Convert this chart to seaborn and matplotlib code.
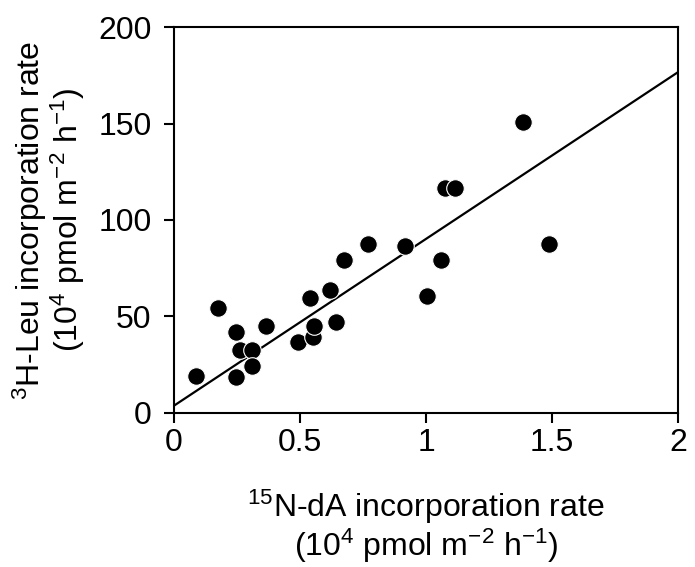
import numpy as np
import pandas as pd
import matplotlib
matplotlib.use("Agg")
import matplotlib.pyplot as plt
import seaborn as sns

# values
dA_rate = [0.09, 0.176, 0.247, 0.262, 0.311, 0.31, 0.247, 0.366, 0.493, 0.55,
           0.557, 0.541, 0.643, 0.62, 0.676, 0.771, 0.915, 1.058, 1.002, 1.074,
           1.114, 1.383, 1.486]
leu_rate = [19.3, 54.6, 42.1, 32.6, 32.6, 24.5, 18.3, 45.1, 36.9, 39.2,
            45.1, 59.6, 47.3, 63.7, 79.3, 87.6, 86.7, 79.3, 60.6, 116.6,
            116.6, 150.6, 87.6]

# regression line as drawn in the figure
fit_intercept = 3.6
fit_slope = 86.6
fit_x = [0, 2]

df = pd.DataFrame({"dA": dA_rate, "leu": leu_rate})
fit_df = pd.DataFrame({"x": fit_x})
fit_df["y"] = fit_intercept + fit_slope * fit_df["x"]

sns.set_theme(style="ticks")
plt.rcParams["font.family"] = ["Liberation Sans", "DejaVu Sans"]
plt.rcParams["mathtext.fontset"] = "custom"
plt.rcParams["mathtext.rm"] = "Liberation Sans"
plt.rcParams["mathtext.it"] = "Liberation Sans"

fig = plt.figure(figsize=(6.95, 5.67), dpi=100)
ax = fig.add_axes([0.25, 0.272, 0.726, 0.68])

sns.lineplot(data=fit_df, x="x", y="y", ax=ax, color="black", lw=1.6)
sns.scatterplot(data=df, x="dA", y="leu", ax=ax, s=160, color="black",
                edgecolor="white", linewidth=0.8, zorder=3)

ax.set_xlim(0, 2)
ax.set_ylim(0, 200)
ax.set_xticks([0, 0.5, 1, 1.5, 2])
ax.set_xticklabels(["0", "0.5", "1", "1.5", "2"])
ax.set_yticks([0, 50, 100, 150, 200])

for s in ax.spines.values():
    s.set_linewidth(1.5)
    s.set_color("black")
ax.tick_params(direction="out", length=7, width=1.5, labelsize=23, colors="black")
ax.tick_params(axis="x", pad=4)
ax.tick_params(axis="y", pad=9)

ax.set_xlabel("$^{15}$N-dA incorporation rate\n(10$^{4}$ pmol m$^{-2}$ h$^{-1}$)",
              fontsize=23, labelpad=21, color="black", linespacing=1.05)
ax.set_ylabel("$^{3}$H-Leu incorporation rate\n(10$^{4}$ pmol m$^{-2}$ h$^{-1}$)",
              fontsize=23, labelpad=8, color="black", linespacing=1.0)

fig.savefig("out.png", dpi=100, facecolor="white")
